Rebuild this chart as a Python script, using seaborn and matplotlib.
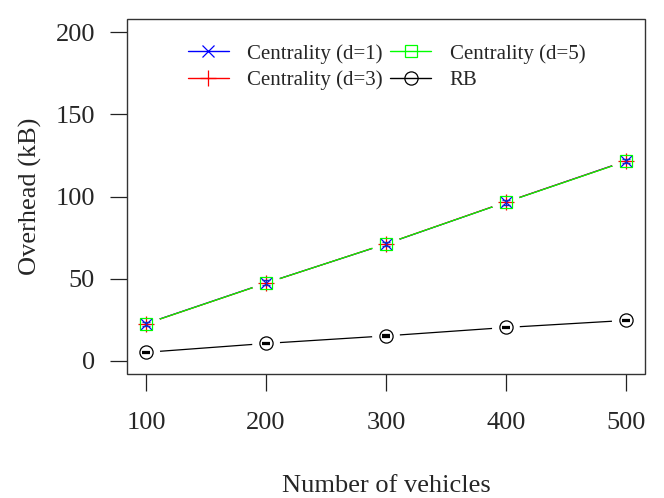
import matplotlib

matplotlib.use("Agg")

import matplotlib.pyplot as plt
import pandas as pd
import seaborn as sns
from matplotlib.lines import Line2D
from matplotlib.patches import Rectangle

vehicles = [100, 200, 300, 400, 500]
centrality_d1 = [22.7, 47.4, 71.1, 96.6, 121.6]
centrality_d3 = [22.6, 47.3, 71.2, 96.6, 121.5]
centrality_d5 = [22.6, 47.3, 71.2, 96.5, 121.4]
rb = [5.2, 10.6, 15.2, 20.3, 24.6]
centrality_err = [1.2, 1.5, 1.5, 1.5, 1.5]
rb_err = [0.4, 0.4, 0.4, 0.4, 0.4]

series_labels = ["Centrality (d=1)", "Centrality (d=3)", "Centrality (d=5)", "RB"]
series_values = [centrality_d1, centrality_d3, centrality_d5, rb]
series_colors = ["#0000FF", "#FF0000", "#00FF00", "#000000"]
series_markers = ["x", "+", "s", "o"]
series_sizes = [8, 11, 9, 9.5]

frame = pd.DataFrame(
    {
        "vehicles": vehicles * len(series_labels),
        "overhead": [v for values in series_values for v in values],
        "series": [name for name in series_labels for _ in vehicles],
    }
)

sns.set_theme(style="white")
plt.rcParams["font.family"] = ["Liberation Serif", "DejaVu Serif"]

fig = plt.figure(figsize=(6.64, 4.98), dpi=100)
ax = fig.add_axes([127 / 664, 1 - 374 / 498, 518 / 664, 355 / 498])

# lines first, then white discs to open R-style gaps, then the symbols
sns.lineplot(
    data=frame,
    x="vehicles",
    y="overhead",
    hue="series",
    palette=dict(zip(series_labels, series_colors)),
    linewidth=0.9,
    legend=False,
    ax=ax,
)
for line in ax.lines:
    line.set_zorder(1)

sns.scatterplot(data=frame, x="vehicles", y="overhead", s=400, color="white",
                edgecolor="none", legend=False, ax=ax, zorder=3)

ax.errorbar(vehicles, centrality_d1, yerr=centrality_err, fmt="none",
            ecolor="#1030C0", elinewidth=0.9, capsize=3, capthick=1.0, zorder=5)
ax.errorbar(vehicles, rb, yerr=rb_err, fmt="none",
            ecolor="black", elinewidth=0.9, capsize=3, capthick=1.6, zorder=5)

for values, color, marker, size in zip(series_values, series_colors, series_markers, series_sizes):
    ax.plot(vehicles, values, linestyle="none", marker=marker, markersize=size,
            markerfacecolor="none", markeredgecolor=color, markeredgewidth=0.9, zorder=4)

ax.set_xlim(84, 516)
ax.set_ylim(-8, 208)
ax.set_xticks(vehicles)
ax.set_yticks([0, 50, 100, 150, 200])

for spine in ax.spines.values():
    spine.set_visible(False)
ax.add_patch(Rectangle((0, 0), 1, 1, transform=ax.transAxes, fill=False,
                       edgecolor="#333333", linewidth=1.0, zorder=6, clip_on=False))

ax.tick_params(axis="both", which="major", direction="out", length=12, width=0.9,
               color="#222222", labelsize=19, left=True, bottom=True)
ax.tick_params(axis="y", pad=11)
ax.tick_params(axis="x", pad=15)
ax.grid(False)

ax.set_xlabel("Number of vehicles", fontsize=19)
ax.set_ylabel("Overhead (kB)", fontsize=19)
ax.xaxis.set_label_coords(0.5, -0.285)
ax.yaxis.set_label_coords(-0.165, 0.5)

handles = [
    Line2D([], [], color=c, marker=m, markersize=s, markerfacecolor="none",
           markeredgecolor=c, markeredgewidth=0.9, linewidth=1.0)
    for c, m, s in zip(series_colors, series_markers, series_sizes)
]
ax.legend(
    handles,
    series_labels,
    ncol=2,
    loc="upper left",
    bbox_to_anchor=(0.118, 0.93),
    frameon=False,
    fontsize=15,
    handlelength=1.95,
    handletextpad=0.9,
    columnspacing=0.35,
    labelspacing=0.33,
    borderpad=0,
    borderaxespad=0,
)

fig.savefig("out.png", dpi=100)
